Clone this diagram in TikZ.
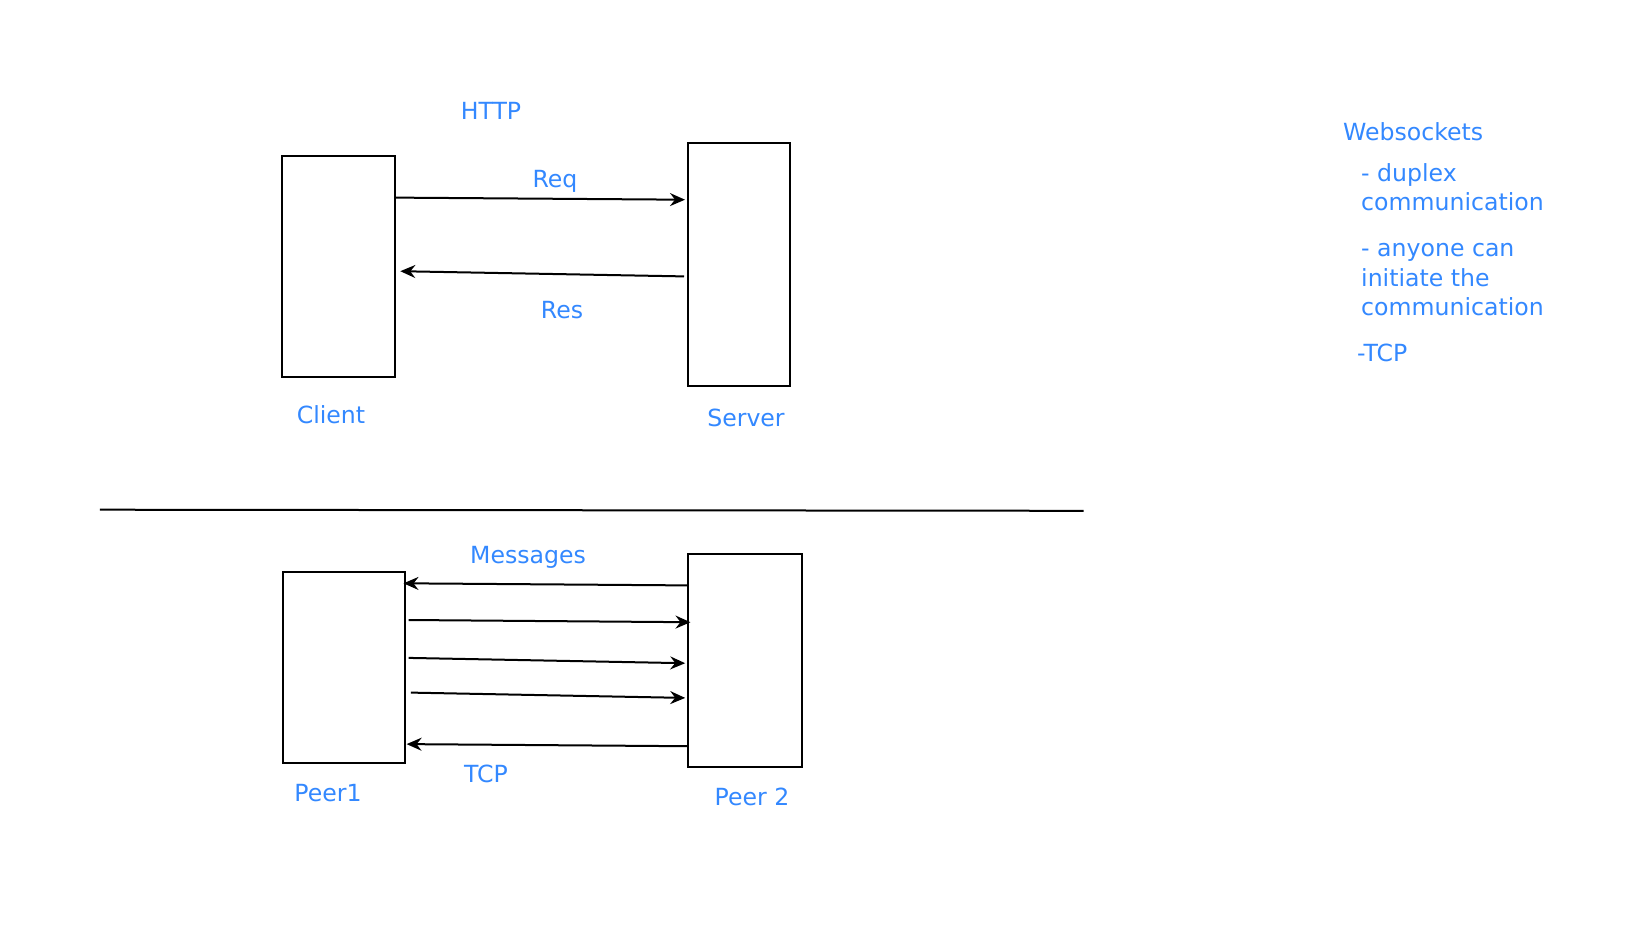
\documentclass[tikz,border=0pt]{standalone}
\usepackage{fontspec}
\setmainfont{DejaVu Sans}
\usetikzlibrary{arrows.meta}
\definecolor{txtblue}{HTML}{3388FF}
\begin{document}
\begin{tikzpicture}[x=1pt,y=-1pt,
  box/.style={draw=black,line width=2pt,fill=white,anchor=north west,inner sep=0pt},
  lbl/.style={text=txtblue,font=\fontsize{23.6}{29.4}\selectfont,inner sep=0pt},
  para/.style={lbl,anchor=base west,align=left},
  conn/.style={line width=2pt,-{Stealth[length=15pt,width=13pt,inset=5pt]}}]
\useasboundingbox (0,0) rectangle (1648,927);
% boxes
\node[box,minimum width=113.5pt,minimum height=221.8pt] (client) at (280.6,154.5) {};
\node[box,minimum width=102pt,minimum height=242.8pt] (server) at (687.3,141.9) {};
\node[box,minimum width=121.9pt,minimum height=191.3pt] (peer1) at (281.7,570.7) {};
\node[box,minimum width=113.6pt,minimum height=213.4pt] (peer2) at (687.3,552.8) {};
% labels
\node[lbl] (http) at (491,111) {HTTP};
\node[lbl] (req) at (555,181) {Req};
\node[lbl] (res) at (562,310) {Res};
\node[lbl] (clientl) at (331,415) {Client};
\node[lbl] (serverl) at (746,418) {Server};
\node[lbl] (msgs) at (528,557) {Messages};
\node[lbl] (tcp) at (486,773.5) {TCP};
\node[lbl] (peer1l) at (328,793.5) {Peer1};
\node[lbl] (peer2l) at (752,796.6) {Peer 2};
% right notes (base = baseline of last line)
\node[para] (ws) at (1343,140) {Websockets};
\node[para] (dup) at (1361,210.4) {- duplex\\communication};
\node[para] (any) at (1361,315.6) {- anyone can\\initiate the\\communication};
\node[para] (tcpn) at (1357,361.6) {-TCP};
% divider
\coordinate (divL) at (99.8,509.7);
\coordinate (divR) at (1083.6,510.8);
\draw[line width=2pt] (divL) -- (divR);
% HTTP arrows
\draw[conn] ([xshift=-2pt,yshift=-43.1pt]client.north east) -- ([xshift=-2.3pt,yshift=-57.8pt]server.north west);
\draw[conn] ([xshift=-3.3pt,yshift=-134.5pt]server.north west) -- ([xshift=4.2pt,yshift=-116.7pt]client.north east);
% peer arrows
\draw[conn] ([yshift=-32.6pt]peer2.north west) -- ([xshift=-2.1pt,yshift=-12.6pt]peer1.north east);
\draw[conn] ([xshift=3.1pt,yshift=-49.3pt]peer1.north east) -- ([xshift=3.2pt,yshift=-69.4pt]peer2.north west);
\draw[conn] ([xshift=3.1pt,yshift=-87.2pt]peer1.north east) -- ([xshift=-2.1pt,yshift=-110.4pt]peer2.north west);
\draw[conn] ([xshift=5.2pt,yshift=-121.9pt]peer1.north east) -- ([xshift=-2.1pt,yshift=-145.1pt]peer2.north west);
\draw[conn] ([yshift=-193.4pt]peer2.north west) -- ([xshift=1pt,yshift=-173.4pt]peer1.north east);
\end{tikzpicture}
\end{document}
